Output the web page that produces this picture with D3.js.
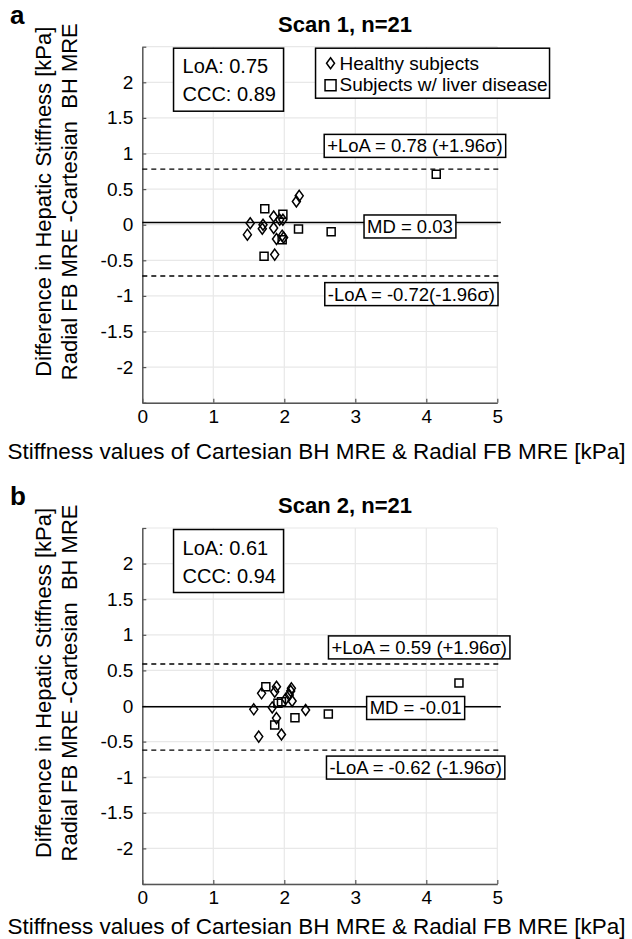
<!DOCTYPE html>
<meta charset="utf-8" />
<script src="https://cdn.jsdelivr.net/npm/d3@7"></script>
<style>
  body { margin: 0; background: #fff; }
  text { font-family: "Liberation Sans", Arial, Helvetica, sans-serif; }
</style>
<div id="my_dataviz"></div>
<script>
  // ---- data ----
  const panelLetters = ["a", "b"];
  const scanTitles = ["Scan 1, n=21", "Scan 2, n=21"];
  const loaValues = [0.75, 0.61];
  const cccValues = [0.89, 0.94];
  const mdValues = [0.03, -0.01];
  const upperLoA = [0.78, 0.59];
  const lowerLoA = [-0.72, -0.62];
  const upperText = ["+LoA = 0.78 (+1.96σ)", "+LoA = 0.59 (+1.96σ)"];
  const lowerText = ["-LoA = -0.72(-1.96σ)", "-LoA = -0.62 (-1.96σ)"];
  const mdText = ["MD = 0.03", "MD = -0.01"];

  // scan 1
  const healthyX1 = [1.52, 1.48, 1.70, 1.69, 1.85, 1.85, 1.935, 1.98, 1.89, 1.97, 1.865, 2.17, 2.21, 1.99];
  const healthyY1 = [0.02, -0.14, 0.0, -0.056, 0.116, -0.047, 0.07, 0.07, -0.2, -0.154, -0.42, 0.326, 0.405, -0.18];
  const liverX1 = [1.725, 1.98, 2.2, 2.66, 1.715, 1.97, 4.14];
  const liverY1 = [0.224, 0.148, -0.06, -0.1, -0.443, -0.21, 0.71];
  // scan 2
  const healthyX2 = [1.68, 1.89, 1.865, 2.1, 2.09, 2.07, 2.11, 1.57, 1.83, 2.3, 1.89, 1.64, 1.96, 2.02];
  const healthyY2 = [0.178, 0.27, 0.2, 0.248, 0.21, 0.155, 0.07, -0.047, -0.02, -0.056, -0.17, -0.43, -0.4, 0.1];
  const liverX2 = [1.74, 1.96, 1.91, 2.15, 2.62, 1.865, 4.46];
  const liverY2 = [0.272, 0.06, 0.037, -0.165, -0.113, -0.268, 0.324];

  const xTicks = [0, 1, 2, 3, 4, 5];
  const yTicks = [-2.5, -2, -1.5, -1, -0.5, 0, 0.5, 1, 1.5, 2, 2.5];
  const legendLabels = ["Healthy subjects", "Subjects w/ liver disease"];

  const W = 632, H = 939;
  const margin = { left: 142.3 },
    width = 355,
    height = 356;
  const panelTops = [46.7, 528];

  const svgRoot = d3
    .select("#my_dataviz")
    .append("svg")
    .attr("width", W)
    .attr("height", H);

  const diamond = "M0,-5.5L4,0L0,5.5L-4,0Z";
  const square = "M-4,-4H4V4H-4Z";

  // placement of the text boxes (data coords of their centres)
  const upperPos = [[3.84, 1.107], [3.9, 0.823]];
  const mdPos = [[3.77, -0.025], [3.85, -0.028]];
  const lowerPos = [[3.79, -0.975], [3.85, -0.865]];

  function boxedText(g, cx, cy, str, size) {
    var t = g
      .append("text")
      .attr("x", cx)
      .attr("y", cy)
      .attr("text-anchor", "middle")
      .attr("dominant-baseline", "central")
      .style("font-size", size + "px")
      .text(str);
    var bb = t.node().getBBox();
    g.insert("rect", function () { return t.node(); })
      .attr("x", bb.x - 3)
      .attr("y", cy - 11.5)
      .attr("width", bb.width + 6)
      .attr("height", 23)
      .attr("fill", "white")
      .attr("stroke", "black")
      .attr("stroke-width", 1.5);
  }

  function drawPanel(i, hx, hy, lx, ly) {
    var top = panelTops[i];
    var svg = svgRoot
      .append("g")
      .attr("transform", `translate(${margin.left},${top})`);

    var x = d3.scaleLinear().domain([0, 5]).range([0, width]);
    var y = d3.scaleLinear().domain([-2.5, 2.5]).range([height, 0]);

    // grid
    svg.selectAll(".vgrid")
      .data(xTicks.slice(1))
      .join("line")
      .attr("x1", (d) => x(d))
      .attr("x2", (d) => x(d))
      .attr("y1", 0)
      .attr("y2", height)
      .attr("stroke", "#e8e8e8")
      .attr("stroke-width", 1.2);
    svg.selectAll(".hgrid")
      .data(yTicks)
      .join("line")
      .attr("x1", 0)
      .attr("x2", width)
      .attr("y1", (d) => y(d))
      .attr("y2", (d) => y(d))
      .attr("stroke", "#e8e8e8")
      .attr("stroke-width", 1.2);

    // axes
    var xAxis = svg
      .append("g")
      .attr("transform", `translate(0,${height})`)
      .call(d3.axisBottom(x).tickValues(xTicks).tickFormat((d) => String(d)).tickSizeInner(-4).tickSizeOuter(0).tickPadding(7));
    var yAxis = svg
      .append("g")
      .call(
        d3.axisLeft(y)
          .tickValues(yTicks)
          .tickFormat((d) => (Math.abs(d) == 2.5 ? "" : String(d)))
          .tickSizeInner(-4)
          .tickSizeOuter(0)
          .tickPadding(9)
      );
    [xAxis, yAxis].forEach(function (a) {
      a.select(".domain").attr("stroke", "#555").attr("stroke-width", 1.5);
      a.selectAll(".tick line").attr("stroke", "#555").attr("stroke-width", 1.2);
      a.selectAll(".tick text")
        .attr("fill", "black")
        .style("font-size", "19px")
        .style("font-family", "Liberation Sans, Arial, sans-serif");
    });

    // mean difference and limits of agreement
    svg.append("line")
      .attr("x1", 0)
      .attr("x2", x(5.05))
      .attr("y1", y(mdValues[i]))
      .attr("y2", y(mdValues[i]))
      .attr("stroke", "black")
      .attr("stroke-width", 1.5);
    [upperLoA[i], lowerLoA[i]].forEach(function (v) {
      svg.append("line")
        .attr("x1", 0)
        .attr("x2", x(5.05))
        .attr("y1", y(v))
        .attr("y2", y(v))
        .attr("stroke", "black")
        .attr("stroke-width", 1.4)
        .attr("stroke-dasharray", "5,4");
    });

    // points
    svg.selectAll(".healthy")
      .data(hx)
      .join("path")
      .attr("d", diamond)
      .attr("transform", (d, k) => `translate(${x(d)},${y(hy[k])})`)
      .attr("fill", "none")
      .attr("stroke", "black")
      .attr("stroke-width", 1.5);
    svg.selectAll(".liver")
      .data(lx)
      .join("path")
      .attr("d", square)
      .attr("transform", (d, k) => `translate(${x(d)},${y(ly[k])})`)
      .attr("fill", "none")
      .attr("stroke", "black")
      .attr("stroke-width", 1.5);

    // labelled boxes
    boxedText(svg.append("g"), x(upperPos[i][0]), y(upperPos[i][1]), upperText[i], 18.5);
    boxedText(svg.append("g"), x(mdPos[i][0]), y(mdPos[i][1]), mdText[i], 18.5);
    boxedText(svg.append("g"), x(lowerPos[i][0]), y(lowerPos[i][1]), lowerText[i], 18.5);

    // LoA / CCC box
    var statBox = svg.append("g").attr("transform", `translate(${x(0.44)},1.5)`);
    statBox.append("rect")
      .attr("width", 110)
      .attr("height", 63)
      .attr("fill", "white")
      .attr("stroke", "black")
      .attr("stroke-width", 1.5);
    statBox.append("text")
      .attr("x", 9).attr("y", 25)
      .style("font-size", "20px")
      .text("LoA: " + loaValues[i]);
    statBox.append("text")
      .attr("x", 9).attr("y", 53)
      .style("font-size", "20px")
      .text("CCC: " + cccValues[i]);

    // legend (first panel only)
    if (i == 0) {
      var leg = svg.append("g").attr("transform", `translate(${x(2.44)},1.5)`);
      leg.append("rect")
        .attr("width", 234)
        .attr("height", 50)
        .attr("fill", "white")
        .attr("stroke", "black")
        .attr("stroke-width", 1.5);
      leg.append("path").attr("d", diamond).attr("transform", "translate(15,15)")
        .attr("fill", "none").attr("stroke", "black").attr("stroke-width", 1.5);
      leg.append("path").attr("d", "M-5.5,-5.5H5.5V5.5H-5.5Z").attr("transform", "translate(15,37)")
        .attr("fill", "none").attr("stroke", "black").attr("stroke-width", 1.5);
      leg.selectAll(".legtext")
        .data(legendLabels)
        .join("text")
        .attr("x", 24)
        .attr("y", (d, k) => 21.5 + k * 21.5)
        .style("font-size", "19px")
        .text((d) => d);
    }

    // titles and labels
    svgRoot.append("text")
      .attr("x", 345)
      .attr("y", top - 15)
      .attr("text-anchor", "middle")
      .style("font-size", "22px")
      .style("font-weight", "bold")
      .text(scanTitles[i]);
    svgRoot.append("text")
      .attr("x", 10)
      .attr("y", top - 23)
      .style("font-size", "26px")
      .style("font-weight", "bold")
      .text(panelLetters[i]);

    var yl = svgRoot.append("g")
      .attr("transform", `translate(0,${top + 155}) rotate(-90)`);
    yl.append("text")
      .attr("x", 0).attr("y", 51)
      .attr("text-anchor", "middle")
      .style("font-size", "22px")
      .text("Difference in Hepatic Stiffness [kPa]");
    yl.append("text")
      .attr("x", 0).attr("y", 77)
      .attr("text-anchor", "middle")
      .style("font-size", "22px")
      .style("white-space", "pre")
      .text("Radial FB MRE -Cartesian  BH MRE");

    svgRoot.append("text")
      .attr("x", 316.5)
      .attr("y", Math.min(top + height + 56, H - 5))
      .attr("text-anchor", "middle")
      .attr("textLength", 618)
      .attr("lengthAdjust", "spacingAndGlyphs")
      .style("font-size", "22px")
      .text("Stiffness values of Cartesian BH MRE & Radial FB MRE [kPa]");
  }

  drawPanel(0, healthyX1, healthyY1, liverX1, liverY1);
  drawPanel(1, healthyX2, healthyY2, liverX2, liverY2);
</script>
